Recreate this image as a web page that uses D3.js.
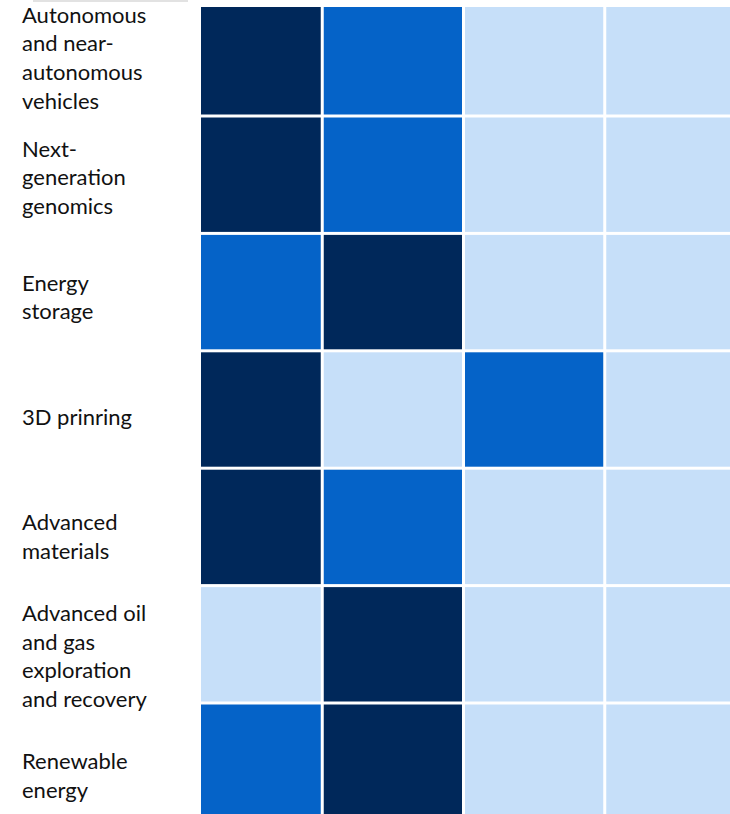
<!DOCTYPE html>
<html>
<head>
<meta charset="utf-8">
<script src="https://cdn.jsdelivr.net/npm/d3@7"></script>
<style>
  body { margin: 0; background: #fff; }
  svg { display: block; }
  .label { font-family: Lato, "Open Sans", sans-serif; font-size: 22px; fill: #111; }
</style>
</head>
<body>
<svg id="chart"></svg>
<script>
const width = 730;
const height = 814;

// rows (technologies), top to bottom
const rows = [
  "Autonomous and near-autonomous vehicles",
  "Next-generation genomics",
  "Energy storage",
  "3D prinring",
  "Advanced materials",
  "Advanced oil and gas exploration and recovery",
  "Renewable energy"
];
// label lines as they wrap in the picture
const rowLines = [
  ["Autonomous", "and near-", "autonomous", "vehicles"],
  ["Next-", "generation", "genomics"],
  ["Energy", "storage"],
  ["3D prinring"],
  ["Advanced", "materials"],
  ["Advanced oil", "and gas", "exploration", "and recovery"],
  ["Renewable", "energy"]
];
const columns = ["c1", "c2", "c3", "c4"];

// level per cell: 0 = low, 1 = medium, 2 = high
const levels = [
  [2, 1, 0, 0],
  [2, 1, 0, 0],
  [1, 2, 0, 0],
  [2, 0, 1, 0],
  [2, 1, 0, 0],
  [0, 2, 0, 0],
  [1, 2, 0, 0]
];
const levelColors = ["#c6dff9", "#0563c8", "#00285a"];

const cells = [];
levels.forEach((r, i) => r.forEach((v, j) => cells.push({ row: rows[i], col: columns[j], v })));

const svg = d3.select("#chart").attr("width", width).attr("height", height);

// the grid is cropped on the top, left and right edges
const x = d3.scaleBand().domain(columns).range([181, 746]);
const y = d3.scaleBand().domain(rows).range([-1.4, 820.4]);
const color = d3.scaleOrdinal().domain([0, 1, 2]).range(levelColors);
const yLabel = d3.scalePoint().domain(rows).range([58, 776]);

svg.append("clipPath").attr("id", "grid-clip")
  .append("rect")
  .attr("x", 201).attr("y", 7)
  .attr("width", width - 201).attr("height", height - 7);

const grid = svg.append("g").attr("clip-path", "url(#grid-clip)");
const gap = 3;

grid.selectAll("rect.cell")
  .data(cells)
  .enter()
  .append("rect")
  .attr("class", "cell")
  .attr("x", (d) => x(d.col) + gap / 2)
  .attr("y", (d) => y(d.row) + gap / 2)
  .attr("width", x.bandwidth() - gap)
  .attr("height", y.bandwidth() - gap)
  .attr("fill", (d) => color(d.v));

// faint rule left over at the top of the crop
svg.append("line")
  .attr("x1", 33).attr("x2", 188)
  .attr("y1", 1).attr("y2", 1)
  .attr("stroke", "#d8d8d8")
  .attr("stroke-width", 1.5);

const lineH = 28.7;
const labels = svg.append("g");
rows.forEach((r, i) => {
  const lines = rowLines[i];
  const t = labels.append("text")
    .attr("class", "label")
    .attr("x", 22)
    .attr("y", yLabel(r) - ((lines.length - 1) * lineH) / 2);
  lines.forEach((ln, k) => {
    t.append("tspan")
      .attr("x", 22)
      .attr("dy", k === 0 ? "0.35em" : lineH)
      .text(ln);
  });
});
</script>
</body>
</html>
